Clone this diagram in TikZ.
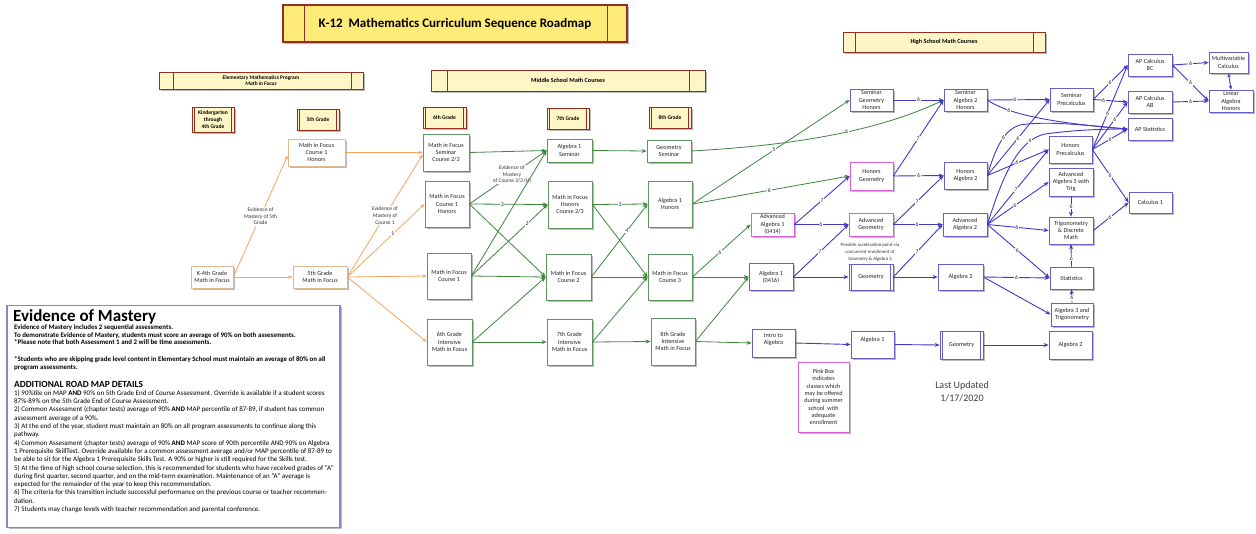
\documentclass[tikz,border=0pt]{standalone}
\usepackage{fontspec}
\setmainfont{Carlito}
\usetikzlibrary{arrows.meta,shadows,calc}
\definecolor{dred}{RGB}{150,45,35}
\definecolor{ttl}{RGB}{255,235,120}
\definecolor{pale}{RGB}{255,246,200}
\definecolor{orn}{RGB}{245,165,95}
\definecolor{ornb}{RGB}{225,185,145}
\definecolor{grn}{RGB}{60,135,60}
\definecolor{grnb}{RGB}{95,150,95}
\definecolor{blu}{RGB}{65,55,200}
\definecolor{blub}{RGB}{105,95,200}
\definecolor{pnk}{RGB}{215,95,215}
\definecolor{eomb}{RGB}{140,130,200}
\tikzset{
 sh/.style={drop shadow={shadow xshift=1.5pt,shadow yshift=-1.5pt,fill=black!45,opacity=.6}},
 box/.style={rectangle, fill=white, inner sep=0pt, align=center, text=black!85, font=\fontsize{6.2}{7.3}\selectfont, line width=.7pt, sh},
 ebox/.style={box, draw=ornb},
 gbox/.style={box, draw=grnb},
 bbox/.style={box, draw=blub},
 pbox/.style={box, draw=pnk},
 dbl/.style={path picture={\draw[blub,line width=.6pt] ([xshift=2.5pt]path picture bounding box.north west) -- ([xshift=2.5pt]path picture bounding box.south west) ([xshift=-2.5pt]path picture bounding box.north east) -- ([xshift=-2.5pt]path picture bounding box.south east);}},
 hdr/.style n args={2}{rectangle, fill=pale, draw=dred, line width=.9pt, inner sep=0pt, align=center, font=\bfseries\fontsize{6.2}{7}\selectfont, sh, path picture={\draw[dred,line width=.9pt] ([xshift=#1]path picture bounding box.north west) -- ([xshift=#1]path picture bounding box.south west) ([xshift=-#2]path picture bounding box.north east) -- ([xshift=-#2]path picture bounding box.south east);}},
 grade/.style={hdr={2.5pt}{2.5pt}, font=\bfseries\fontsize{5.5}{7}\selectfont},
 oa/.style={draw=orn, line width=.8pt, -{Stealth[length=4.5pt,width=3.5pt]}},
 ga/.style={draw=grn, line width=.8pt, -{Stealth[length=5pt,width=4pt]}},
 ba/.style={draw=blu, line width=.9pt, -{Stealth[length=5pt,width=4pt]}},
 lbl/.style={fill=white, inner sep=.6pt, text=black!85, font=\fontsize{5.8}{6}\selectfont},
 olbl/.style={fill=white, inner sep=.6pt, align=center, text=black!80, font=\fontsize{5.5}{6.8}\selectfont},
}
\begin{document}
\begin{tikzpicture}[x=1pt,y=-1pt]
\useasboundingbox (0,0) rectangle (1256,533);
\fill[white] (0,0) rectangle (1256,533);

% headers
\node[hdr={21pt}{20pt}, fill=ttl, minimum width=344pt, minimum height=37pt, line width=1.1pt, font=\bfseries\fontsize{13}{15}\selectfont] (title) at (455,23.5) {K-12~~Mathematics Curriculum Sequence Roadmap};
\node[hdr={14pt}{12pt}, minimum width=204pt, minimum height=17pt, font=\bfseries\fontsize{5.4}{6.3}\selectfont] (elemhdr) at (261,80.5) {Elementary Mathematics Program\\\textit{Math in Focus}};
\node[hdr={16pt}{16pt}, minimum width=274pt, minimum height=21pt] (mshdr) at (568,80.5) {Middle School Math Courses};
\node[hdr={12pt}{12pt}, minimum width=202pt, minimum height=20pt] (hshdr) at (944,42) {High School Math Courses};

% grade labels
\node[grade, minimum width=42pt, minimum height=25pt] (gk) at (213,119.5) {Kindergarten\\through\\4th Grade};
\node[grade, minimum width=42pt, minimum height=21pt] (g5l) at (318,119.5) {5th Grade};
\node[grade, minimum width=43pt, minimum height=21pt] (g6l) at (444.5,117.5) {6th Grade};
\node[grade, minimum width=42pt, minimum height=21pt] (g7l) at (568,118.5) {7th Grade};
\node[grade, minimum width=42pt, minimum height=21pt] (g8l) at (670,117.5) {8th Grade};

% elementary
\node[ebox, minimum width=42pt, minimum height=22pt] (k4) at (212,277) {K-4th Grade\\Math in Focus};
\node[ebox, minimum width=54pt, minimum height=22pt] (g5) at (320,277) {5th Grade\\Math in Focus};
\node[ebox, minimum width=57pt, minimum height=27pt] (c1h5) at (316.5,152.5) {Math in Focus\\Course 1\\Honors};

% middle school
\node[gbox, minimum width=46pt, minimum height=37pt] (m6s) at (446,152.5) {Math in Focus\\Seminar\\Course 2/3};
\node[gbox, minimum width=44pt, minimum height=46pt] (m6h) at (447,204) {Math in Focus\\Course 1\\Honors};
\node[gbox, minimum width=44pt, minimum height=46pt] (m6c) at (449,276) {Math in Focus\\Course 1};
\node[gbox, minimum width=45pt, minimum height=46pt] (m6i) at (449.5,342) {6th Grade\\Intensive\\Math in Focus};
\node[gbox, minimum width=45pt, minimum height=23pt] (m7s) at (569.5,150.5) {Algebra 1\\Seminar};
\node[gbox, minimum width=44pt, minimum height=47pt] (m7h) at (570,204.5) {Math in Focus\\Honors\\Course 2/3};
\node[gbox, minimum width=45pt, minimum height=46pt] (m7c) at (568.5,277) {Math in Focus\\Course 2};
\node[gbox, minimum width=45pt, minimum height=46pt] (m7i) at (569.5,342) {7th Grade\\Intensive\\Math in Focus};
\node[gbox, minimum width=44pt, minimum height=22pt] (m8s) at (669,151) {Geometry\\Seminar};
\node[gbox, minimum width=44pt, minimum height=46pt] (m8h) at (670,204) {Algebra 1\\Honors};
\node[gbox, minimum width=44pt, minimum height=46pt] (m8c) at (670,277) {Math in Focus\\Course 3};
\node[gbox, minimum width=44pt, minimum height=47pt] (m8i) at (673,341.5) {8th Grade\\Intensive\\Math in Focus};

% high school
\node[bbox, minimum width=43pt, minimum height=22pt] (sgh) at (871.5,100) {Seminar\\Geometry\\Honors};
\node[bbox, minimum width=43pt, minimum height=22pt] (sa2h) at (965.5,100) {Seminar\\Algebra 2\\Honors};
\node[pbox, minimum width=43pt, minimum height=28pt] (hgeo) at (871.5,176) {Honors\\Geometry};
\node[bbox, minimum width=43pt, minimum height=27pt] (ha2) at (965.5,175.5) {Honors\\Algebra 2};
\node[pbox, minimum width=43pt, minimum height=23pt] (aa1) at (772.5,224.5) {Advanced\\Algebra 1\\(0414)};
\node[pbox, minimum width=44pt, minimum height=23pt] (ageo) at (871,224.5) {Advanced\\Geometry};
\node[bbox, minimum width=44pt, minimum height=23pt] (aa2) at (965,224.5) {Advanced\\Algebra 2};
\node[bbox, minimum width=44pt, minimum height=27pt] (a1) at (771,277) {Algebra 1\\(0416)};
\node[bbox, dbl, minimum width=44pt, minimum height=26pt] (geo) at (871,277) {Geometry};
\node[bbox, minimum width=45pt, minimum height=26pt] (a2) at (960.5,277) {Algebra 2};
\node[bbox, minimum width=43pt, minimum height=28pt] (intro) at (773.5,343) {Intro to\\Algebra\\~};
\node[bbox, minimum width=43pt, minimum height=27pt] (a1b) at (872.5,344.5) {Algebra 1\\[4pt]~};
\node[bbox, dbl, minimum width=43pt, minimum height=28pt] (geob) at (961.5,345) {Geometry};
\node[bbox, minimum width=43pt, minimum height=28pt] (a2b) at (1070.5,345) {Algebra 2};
\node[bbox, minimum width=43pt, minimum height=23pt] (spre) at (1071.5,99.5) {Seminar\\Precalculus};
\node[bbox, minimum width=43pt, minimum height=27pt] (hpre) at (1070.5,149.5) {Honors\\Precalculus};
\node[bbox, minimum width=44pt, minimum height=28pt] (aa3) at (1071,182) {Advanced\\Algebra 3 with\\Trig};
\node[bbox, minimum width=44pt, minimum height=27pt] (trig) at (1071,230.5) {Trigonometry\\\& Discrete\\Math};
\node[bbox, minimum width=43pt, minimum height=22pt] (stat) at (1071.5,278) {Statistics};
\node[bbox, minimum width=42pt, minimum height=23pt] (a3t) at (1072,314.5) {Algebra 3 and\\Trigonometry};
\node[bbox, minimum width=43pt, minimum height=21pt] (calc1) at (1150.5,202.5) {Calculus 1};
\node[bbox, minimum width=44pt, minimum height=22pt] (bc) at (1150,65) {AP Calculus\\BC};
\node[bbox, minimum width=44pt, minimum height=22pt] (ab) at (1150,102) {AP Calculus\\AB};
\node[bbox, minimum width=44pt, minimum height=22pt] (aps) at (1150,129) {AP Statistics};
\node[bbox, minimum width=39pt, minimum height=21pt] (mv) at (1228.5,62.5) {Multivariable\\Calculus};
\node[bbox, minimum width=44pt, minimum height=22pt] (la) at (1231,101) {Linear\\Algebra\\Honors};
\node[pbox, minimum width=51pt, minimum height=70pt] (pink) at (823.5,397) {Pink Box\\indicates\\classes which\\may be offered\\during summer\\school~~with\\adequate\\enrollment};
\node[align=center, inner sep=0pt, text=black!80, font=\fontsize{4.8}{7}\selectfont] (accel) at (870,252) {Possible acceleration point via\\concurrent enrollment of\\Geometry \& Algebra 2};
\node[align=center, inner sep=0pt, text=black!75, font=\fontsize{10}{13}\selectfont] (upd) at (962,392) {Last Updated\\1/17/2020};

% evidence of mastery
\node[draw=eomb, fill=white, line width=1.2pt, minimum width=333pt, minimum height=222pt, sh] (eom) at (173.5,416.5) {};
\node[anchor=base west, inner sep=0pt, font=\bfseries\fontsize{17}{19}\selectfont] (eomT) at (13,321) {Evidence of Mastery};
\node[anchor=north west, inner sep=0pt, align=left, font=\bfseries\fontsize{6.9}{7.7}\selectfont] (eomA) at (14,324.5) {Evidence of Mastery includes 2 sequential assessments.\\To demonstrate Evidence of Mastery, students must score an average of 90\% on both assessments.\\*Please note that both Assessment 1 and 2 will be time assessments.\\[9pt]*Students who are skipping grade level content in Elementary School must maintain an average of 80\% on all\\program assessments.};
\node[anchor=base west, inner sep=0pt, font=\bfseries\fontsize{9.4}{10}\selectfont] (eomB) at (14,387) {ADDITIONAL ROAD MAP DETAILS};
\node[anchor=north west, inner sep=0pt, align=left, font=\fontsize{7}{8.3}\selectfont] (eomC) at (14,390) {1) 90\%tile on MAP \textbf{AND} 90\% on 5th Grade End of Course Assessment. Override is available if a student scores\\87\%-89\% on the 5th Grade End of Course Assessment.\\2) Common Assessment (chapter tests) average of 90\% \textbf{AND} MAP percentile of 87-89, if student has common\\assessment average of a 90\%.\\3) At the end of the year, student must maintain an 80\% on all program assessments to continue along this\\pathway.\\4) Common Assessment (chapter tests) average of 90\% \textbf{AND} MAP score of 90th percentile AND 90\% on Algebra\\1 Prerequisite SkillTest. Override available for a common assessment average and/or MAP percentile of 87-89 to\\be able to sit for the Algebra 1 Prerequisite Skills Test. A 90\% or higher is still required for the Skills test.\\5) At the time of high school course selection, this is recommended for students who have received grades of “A”\\during first quarter, second quarter, and on the mid-term examination. Maintenance of an “A” average is\\expected for the remainder of the year to keep this recommendation.\\6) The criteria for this transition include successful performance on the previous course or teacher recommen-\\dation.\\7) Students may change levels with teacher recommendation and parental conference.};

% orange edges
\draw[oa] (k4.east) -- node[olbl]{Evidence of\\Mastery of 5th\\Grade} ($(c1h5.west)+(0,3)$);
\draw[oa] (k4.east) -- (g5.west);
\draw[oa] (c1h5.east) -- (m6s.west);
\draw[oa] (g5.east) -- node[olbl]{Evidence of\\Mastery of\\Course 1} ($(m6s.west)+(0,2)$);
\draw[oa] (g5.east) -- node[lbl,pos=.59]{1} (m6h.west);
\draw[oa] (g5.east) -- (m6c.west);
\draw[oa] (g5.east) -- (m6i.west);

% green edges
\draw[ga] (m6s.east) -- (m7s.west);
\draw[ga] (m6h.east) -- node[olbl,pos=.55]{Evidence of\\Mastery\\of Course 2/3 (H)} (m7s.west);
\draw[ga] (m6h.east) -- node[lbl,pos=.42]{3} (m7h.west);
\draw[ga] (m6h.east) -- (m7c.west);
\draw[ga] (m6c.east) -- (m7s.west);
\draw[ga] (m6c.east) -- node[lbl,pos=.73]{2} (m7h.west);
\draw[ga] (m6c.east) -- (m7c.west);
\draw[ga] (m6i.east) -- (m7c.west);
\draw[ga] (m6i.east) -- (m7i.west);
\draw[ga] (m7s.east) -- (m8s.west);
\draw[ga] (m7h.east) -- node[lbl]{3} (m8h.west);
\draw[ga] (m7h.east) -- (m8c.west);
\draw[ga] (m7c.east) -- node[lbl,pos=.63]{4} (m8h.west);
\draw[ga] (m7c.east) -- (m8c.west);
\draw[ga] (m7i.east) -- (m8c.west);
\draw[ga] (m7i.east) -- (m8i.west);
\draw[ga] (m8s.east) .. controls (800,145) and (880,130) .. node[lbl,pos=.55]{6} (sa2h.west);
\draw[ga] (m8h.east) -- node[lbl,pos=.52]{5} (sgh.west);
\draw[ga] (m8h.east) -- node[lbl,pos=.49]{6} (hgeo.west);
\draw[ga] (m8c.east) -- node[lbl,pos=.47]{6} (aa1.west);
\draw[ga] (m8c.east) -- (a1.west);
\draw[ga] (m8i.east) -- (a1.west);
\draw[ga] (m8i.east) -- (intro.west);

% blue edges
\draw[ba] (sgh.east) -- node[lbl]{6} (sa2h.west);
\draw[ba] (hgeo.east) -- node[lbl,pos=.49]{7} (sa2h.west);
\draw[ba] (hgeo.east) -- node[lbl]{6} (ha2.west);
\draw[ba] (aa1.east) -- node[lbl]{7} (hgeo.west);
\draw[ba] (aa1.east) -- node[lbl,pos=.49]{6} (ageo.west);
\draw[ba] (a1.east) -- node[lbl,pos=.48]{7} (ageo.west);
\draw[ba] (a1.east) -- (geo.west);
\draw[ba] (ageo.east) -- node[lbl,pos=.47]{7} (ha2.west);
\draw[ba] (ageo.east) -- node[lbl,pos=.48]{6} (aa2.west);
\draw[ba] (geo.east) -- node[lbl,pos=.48]{7} (aa2.west);
\draw[ba] (geo.east) -- (a2.west);
\draw[ba] (intro.east) -- (a1b.west);
\draw[ba] (a1b.east) -- (geob.west);
\draw[ba] (geob.east) -- (a2b.west);
\draw[ba] (sa2h.east) -- node[lbl,pos=.44]{6} (spre.west);
\draw[ba] (sa2h.east) .. controls (1005,112) and (1040,122) .. node[lbl,pos=.3]{6} (aps.west);
\draw[ba] (ha2.east) .. controls (995,150) and (1003,130) .. node[lbl,pos=.6]{6} (1020,125) .. controls (1050,120) and (1100,127) .. (aps.west);
\draw[ba] (ha2.east) -- node[lbl,pos=.49]{6} (spre.west);
\draw[ba] (ha2.east) -- node[lbl,pos=.48]{6} (hpre.west);
\draw[ba] (aa2.east) .. controls (1003,175) and (1018,140) .. node[lbl,pos=.8]{6} (1045,134) .. controls (1075,130) and (1100,129) .. (aps.west);
\draw[ba] (aa2.east) -- node[lbl,pos=.47]{7} (hpre.west);
\draw[ba] (aa2.east) -- node[lbl,pos=.45]{6} (aa3.west);
\draw[ba] (aa2.east) -- node[lbl,pos=.48]{6} (trig.west);
\draw[ba] (aa2.east) -- node[lbl,pos=.48]{6} (stat.west);
\draw[ba] (a2.east) -- node[lbl]{6} (stat.west);
\draw[ba] (a2.east) -- (a3t.west);
\draw[ba] (spre.east) -- node[lbl,pos=.49]{6} (bc.west);
\draw[ba] (spre.east) -- node[lbl,pos=.3]{6} (ab.west);
\draw[ba] (hpre.east) -- node[lbl,pos=.43]{6} (bc.west);
\draw[ba] (hpre.east) -- node[lbl,pos=.64]{6} (ab.west);
\draw[ba] (hpre.east) -- node[lbl]{6} (aps.west);
\draw[ba] (hpre.east) -- node[lbl,pos=.49]{6} (calc1.west);
\draw[ba] (aa3.south) -- node[lbl]{6} (trig.north);
\draw[ba] (stat.north) -- node[lbl,pos=.35]{6} (trig.south);
\draw[ba] (a3t.north) -- node[lbl,pos=.35]{6} (stat.south);
\draw[ba] (trig.east) -- node[lbl,pos=.47]{6} (calc1.west);
\draw[ba] (bc.east) -- node[lbl]{6} (mv.west);
\draw[ba] (bc.east) -- node[lbl]{6} (la.west);
\draw[ba] (ab.east) -- node[lbl]{6} (la.west);
\draw[ba, {Stealth[length=4pt,width=3.5pt]}-{Stealth[length=4pt,width=3.5pt]}] (mv.south) -- (la.north);
\end{tikzpicture}
\end{document}
